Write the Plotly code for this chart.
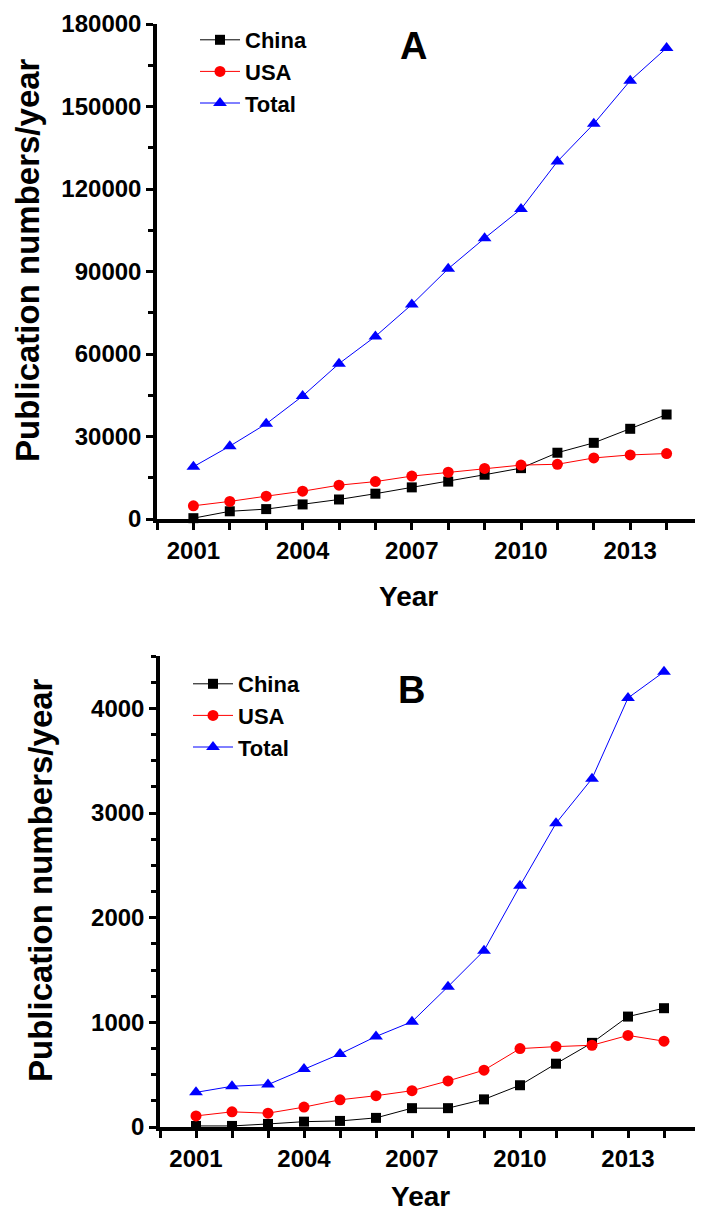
import plotly.graph_objects as go

years = list(range(2001, 2015))

# Panel A
china_a = [300, 2800, 3600, 5300, 7100, 9200, 11500, 13600, 16100, 18500, 24100, 27700, 32800, 38000]
usa_a = [4800, 6400, 8300, 10100, 12300, 13600, 15600, 17000, 18400, 19600, 19900, 22200, 23300, 23800]
total_a = [19000, 26500, 34600, 44700, 56500, 66400, 78000, 91000, 102100, 112700, 130000, 143700, 159400, 171300]

# Panel B
china_b = [10, 10, 29, 51, 58, 87, 180, 180, 264, 399, 605, 804, 1055, 1135]
usa_b = [106, 145, 132, 190, 260, 299, 347, 440, 543, 749, 768, 781, 875, 820]
total_b = [331, 389, 405, 553, 698, 865, 1006, 1341, 1685, 2304, 2902, 3328, 4099, 4349]

series_names = ["China", "USA", "Total"]
colors = ["#000000", "#ff0000", "#0000ff"]
symbols = ["square", "circle", "triangle-up"]
msizes = [10, 11, 12]

W, H = 703, 1224
OFF = 8  # default page body margin
FONT = "Liberation Sans, Arial, sans-serif"


def px(x):
    return (x - OFF) / W


def py(y):
    return 1 - (y - OFF) / H


fig = go.Figure()

for i, (name, vals) in enumerate(zip(series_names, [china_a, usa_a, total_a])):
    fig.add_trace(go.Scatter(
        x=years, y=vals, name=name, mode="lines+markers",
        line=dict(color=colors[i], width=1),
        marker=dict(symbol=symbols[i], size=msizes[i], color=colors[i]),
        xaxis="x", yaxis="y", legend="legend", cliponaxis=False))

for i, (name, vals) in enumerate(zip(series_names, [china_b, usa_b, total_b])):
    fig.add_trace(go.Scatter(
        x=years, y=vals, name=name, mode="lines+markers",
        line=dict(color=colors[i], width=1),
        marker=dict(symbol=symbols[i], size=msizes[i], color=colors[i]),
        xaxis="x2", yaxis="y2", legend="legend2", cliponaxis=False))

tickfont = dict(family=FONT, size=24, color="black", weight="bold")


def xax(domain, anchor):
    return dict(
        domain=domain, range=[2000, 2015], anchor=anchor, automargin=False,
        tickvals=[2001, 2004, 2007, 2010, 2013],
        ticktext=["2001", "2004", "2007", "2010", "2013"],
        ticks="outside", ticklen=7, tickwidth=2.5, tickcolor="black",
        minor=dict(tickvals=list(range(2000, 2016)), ticks="outside",
                   ticklen=7, tickwidth=2.5, tickcolor="black"),
        showline=True, linewidth=3.5, linecolor="black",
        showgrid=False, zeroline=False, tickfont=tickfont)


def yax(domain, rng, dtick, mdtick, anchor):
    return dict(
        domain=domain, range=rng, anchor=anchor, automargin=False,
        tickmode="linear", tick0=0, dtick=dtick, tickformat="d",
        ticks="outside", ticklen=7, tickwidth=2.5, tickcolor="black",
        minor=dict(tick0=0, dtick=mdtick, ticks="outside", ticklen=5,
                   tickwidth=2.5, tickcolor="black"),
        showline=True, linewidth=3.5, linecolor="black",
        showgrid=False, zeroline=False, tickfont=tickfont, ticklabelstandoff=0)


legfont = dict(family=FONT, size=22, color="black", weight="bold")

fig.update_layout(
    width=W, height=H,
    margin=dict(l=0, r=0, t=0, b=0),
    paper_bgcolor="white", plot_bgcolor="white",
    xaxis=xax([px(157), px(703)], "y"),
    yaxis=yax([py(519), py(24)], [0, 180000], 30000, 15000, "x"),
    xaxis2=xax([px(160), px(700)], "y2"),
    yaxis2=yax([py(1127), py(656)], [0, 4500], 1000, 250, "x2"),
    legend=dict(x=px(195), y=py(19), xanchor="left", yanchor="top",
                font=legfont, bgcolor="rgba(0,0,0,0)", tracegroupgap=0,
                itemwidth=40),
    legend2=dict(x=px(188), y=py(663), xanchor="left", yanchor="top",
                 font=legfont, bgcolor="rgba(0,0,0,0)", tracegroupgap=0,
                 itemwidth=40),
    showlegend=True,
)

annots = [
    dict(text="A", x=px(413), y=py(46), font=dict(family=FONT, size=38, weight="bold")),
    dict(text="B", x=px(412), y=py(690), font=dict(family=FONT, size=38, weight="bold")),
    dict(text="Year", x=px(408), y=py(596), font=dict(family=FONT, size=28, weight="bold")),
    dict(text="Year", x=px(420), y=py(1196), font=dict(family=FONT, size=28, weight="bold")),
    dict(text="Publication numbers/year", x=px(28), y=py(260), textangle=-90,
         font=dict(family=FONT, size=33, weight="bold")),
    dict(text="Publication numbers/year", x=px(40), y=py(880), textangle=-90,
         font=dict(family=FONT, size=33, weight="bold")),
]
for a in annots:
    a.update(xref="paper", yref="paper", showarrow=False, xanchor="center", yanchor="middle")
    a["font"]["color"] = "black"
fig.update_layout(annotations=annots)

fig.write_html("out.html")
